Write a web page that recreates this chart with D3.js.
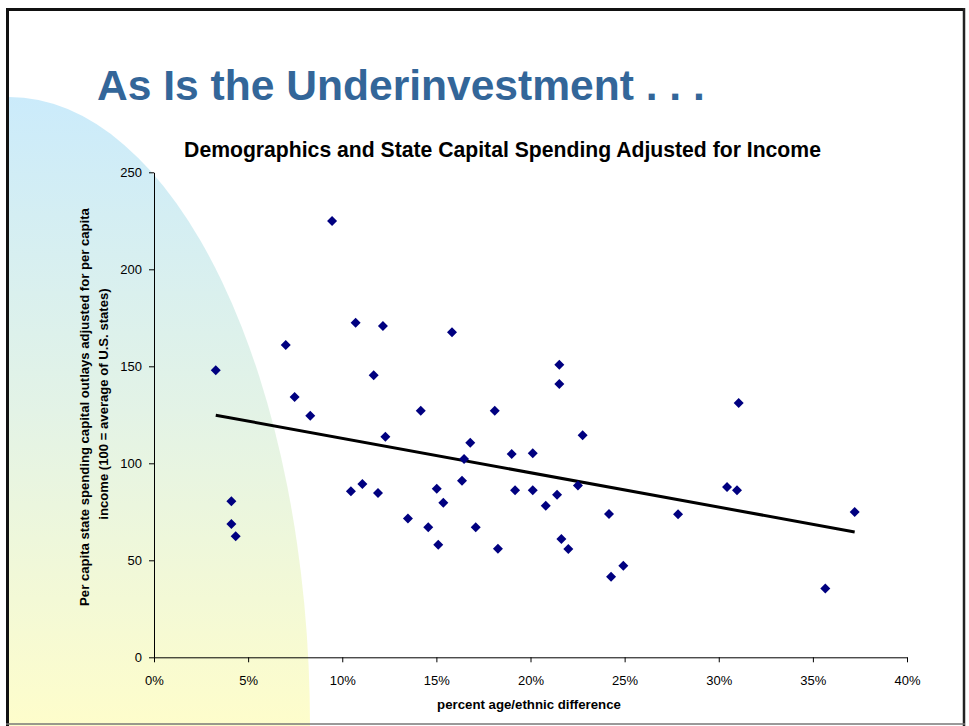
<!DOCTYPE html>
<html>
<head>
<meta charset="utf-8">
<script src="https://cdn.jsdelivr.net/npm/d3@7"></script>
<style>
  html, body { margin: 0; padding: 0; background: #fff; }
  svg { display: block; font-family: "Liberation Sans", Arial, sans-serif; }
</style>
</head>
<body>
<svg id="chart" width="969" height="726"></svg>
<script>
// ---- data ----
const pctDifference = [
  3.28, 4.11, 4.11, 4.34, 7.00, 7.47, 8.30, 9.46, 10.46, 10.71,
  11.07, 11.67, 11.90, 12.16, 12.29, 13.49, 14.17, 14.57, 15.02, 15.10,
  15.37, 15.83, 16.36, 16.47, 16.80, 17.09, 18.10, 18.27, 19.00, 19.18,
  20.12, 20.12, 20.81, 21.41, 21.53, 21.53, 21.64, 22.01, 22.52, 22.77,
  24.17, 24.28, 24.93, 27.84, 30.44, 30.97, 31.06, 35.66, 37.22
];
const spendingIndex = [
  147.9, 80.4, 68.7, 62.4, 161.0, 134.2, 124.5, 224.9, 85.6, 172.5,
  89.3, 145.4, 84.7, 170.8, 113.7, 71.6, 127.1, 67.0, 86.9, 58.0,
  79.7, 167.5, 91.0, 102.2, 110.6, 67.0, 127.1, 56.0, 104.8, 86.1,
  105.2, 86.1, 78.1, 83.8, 150.8, 140.9, 61.0, 55.8, 88.5, 114.4,
  73.9, 41.5, 47.2, 73.7, 87.8, 86.1, 131.1, 35.4, 74.9
];
const xTicks = [0, 5, 10, 15, 20, 25, 30, 35, 40];
const yTicks = [0, 50, 100, 150, 200, 250];
const slideTitle = "As Is the Underinvestment . . .";
const chartTitle = "Demographics and State Capital Spending Adjusted for Income";
const xTitle = "percent age/ethnic difference";
const yTitleLines = [
  "Per capita state spending capital outlays adjusted for per capita",
  "income (100 = average of U.S. states)"
];

const svg = d3.select("#chart");

// ---- background decorative shape ----
const defs = svg.append("defs");
const grad = defs.append("linearGradient")
  .attr("id", "bgGrad").attr("x1", 0).attr("y1", 0).attr("x2", 0).attr("y2", 1);
grad.append("stop").attr("offset", "0%").attr("stop-color", "#CBEBFB");
grad.append("stop").attr("offset", "50%").attr("stop-color", "#E3F3E6");
grad.append("stop").attr("offset", "100%").attr("stop-color", "#FEFDCB");

const ecx = 9, ecy = 726, erx = 301, ery = 629;
svg.append("path")
  .attr("d", `M${ecx},${ecy - ery} A${erx},${ery} 0 0 1 ${ecx + erx},${ecy} L${ecx},${ecy} Z`)
  .attr("fill", "url(#bgGrad)");

// ---- frame ----
svg.append("line").attr("x1", 6).attr("x2", 965).attr("y1", 9.5).attr("y2", 9.5)
  .attr("stroke", "#111").attr("stroke-width", 3);
svg.append("line").attr("x1", 7.5).attr("x2", 7.5).attr("y1", 8).attr("y2", 726)
  .attr("stroke", "#111").attr("stroke-width", 3);
svg.append("line").attr("x1", 964).attr("x2", 964).attr("y1", 8).attr("y2", 726)
  .attr("stroke", "#222").attr("stroke-width", 2.5);
svg.append("line").attr("x1", 6).attr("x2", 965).attr("y1", 724).attr("y2", 724)
  .attr("stroke", "#777").attr("stroke-width", 1.5);

function fitText(sel, target) {
  const w = sel.node().getComputedTextLength();
  const fs = parseFloat(sel.attr("font-size"));
  const nfs = fs * target / w;
  sel.attr("font-size", nfs.toFixed(2));
  return nfs;
}

// ---- slide title ----
const st = svg.append("text")
  .attr("x", 97).attr("y", 99.5)
  .attr("font-size", 40).attr("font-weight", "bold")
  .attr("fill", "#336699")
  .text(slideTitle);
fitText(st, 608);

// ---- chart title ----
const ct = svg.append("text")
  .attr("x", 502.5).attr("y", 157).attr("text-anchor", "middle")
  .attr("font-size", 18).attr("font-weight", "bold").attr("fill", "#000")
  .text(chartTitle);
fitText(ct, 637);

// ---- scales ----
const x = d3.scaleLinear().domain([0, 40]).range([154, 907]);
const y = d3.scaleLinear().domain([0, 250]).range([657.3, 172.3]);

// ---- axes ----
const FF = "Liberation Sans, Arial, sans-serif";
const xAxis = svg.append("g").attr("transform", `translate(0,${y(0)})`)
  .call(d3.axisBottom(x).tickValues(xTicks).tickFormat(d => d + "%").tickSize(5).tickSizeOuter(0));
xAxis.selectAll("text").attr("font-size", 13).attr("font-family", FF)
  .attr("dy", null).attr("y", 28).attr("fill", "#000");
xAxis.selectAll("line, path").attr("stroke", "#000");

const yAxis = svg.append("g").attr("transform", `translate(${x(0)},0)`)
  .call(d3.axisLeft(y).tickValues(yTicks).tickSize(5).tickSizeOuter(0));
yAxis.selectAll("text").attr("font-size", 13).attr("font-family", FF)
  .attr("x", -12).attr("dy", "0.36em").attr("fill", "#000");
yAxis.selectAll("line, path").attr("stroke", "#000");

// ---- axis titles ----
const xt = svg.append("text")
  .attr("x", 529).attr("y", 709).attr("text-anchor", "middle")
  .attr("font-size", 11).attr("font-weight", "bold").text(xTitle);
fitText(xt, 184);

const t1 = svg.append("text")
  .attr("transform", `translate(88.5,407) rotate(-90)`)
  .attr("text-anchor", "middle")
  .attr("font-size", 11).attr("font-weight", "bold").text(yTitleLines[0]);
const yfs = fitText(t1, 398);
svg.append("text")
  .attr("transform", `translate(107.5,404) rotate(-90)`)
  .attr("text-anchor", "middle")
  .attr("font-size", yfs.toFixed(2)).attr("font-weight", "bold").text(yTitleLines[1]);

// ---- trend line (least squares over the points) ----
const pts = pctDifference.map((d, i) => [d, spendingIndex[i]]);
const mx = d3.mean(pts, p => p[0]), my = d3.mean(pts, p => p[1]);
const slope = d3.sum(pts, p => (p[0] - mx) * (p[1] - my)) / d3.sum(pts, p => (p[0] - mx) ** 2);
const icpt = my - slope * mx;
const xMin = d3.min(pctDifference), xMax = d3.max(pctDifference);
svg.append("line")
  .attr("x1", x(xMin)).attr("y1", y(icpt + slope * xMin))
  .attr("x2", x(xMax)).attr("y2", y(icpt + slope * xMax))
  .attr("stroke", "#000").attr("stroke-width", 3);

// ---- points ----
const diamond = d3.symbol().type(d3.symbolSquare).size(50);
svg.append("g").selectAll("path").data(pts).join("path")
  .attr("d", diamond)
  .attr("transform", p => `translate(${x(p[0])},${y(p[1])}) rotate(45)`)
  .attr("fill", "#000080");
</script>
</body>
</html>
